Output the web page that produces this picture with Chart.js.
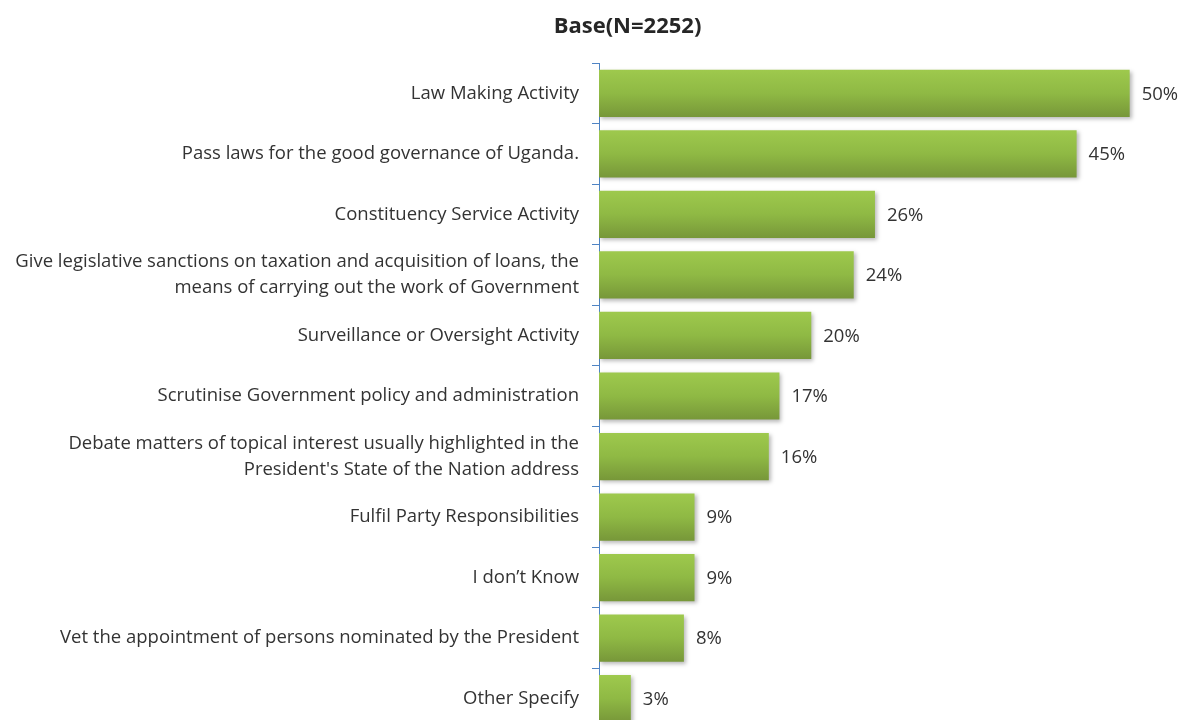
<!DOCTYPE html>
<html>
<head>
<meta charset="utf-8">
<script src="https://cdn.jsdelivr.net/npm/chart.js@4.4.1/dist/chart.umd.min.js"></script>
<style>
    html, body { margin: 0; padding: 0; background: #fff; overflow: hidden; }
    .grafico-container { width: 1187px; height: 729px; position: relative; }
</style>
</head>
<body>
<div class="grafico-container">
    <canvas id="graficoFuncoes"></canvas>
</div>
<script>
const categorias = [
    "Law Making Activity",
    "Pass laws for the good governance of Uganda.",
    "Constituency Service Activity",
    ["Give legislative sanctions on taxation and acquisition of loans, the", "means of carrying out the work of Government"],
    "Surveillance or Oversight Activity",
    "Scrutinise Government policy and administration",
    ["Debate matters of topical interest usually highlighted in the", "President's State of the Nation address"],
    "Fulfil Party Responsibilities",
    "I don\u2019t Know",
    "Vet the appointment of persons nominated by the President",
    "Other Specify"
];
const percentuais = [50, 45, 26, 24, 20, 17, 16, 9, 9, 8, 3];
const titulo = "Base(N=2252)";

const fonteTexto = "'Open Sans', 'Noto Sans', sans-serif";
const corEixo = "#4f84c4";
const larguraBarra = 0.78;
const eixoX = 599;

// gradiente vertical em cada barra (claro em cima, escuro embaixo)
function corBarra(ctx) {
    const chart = ctx.chart;
    const escalaY = chart.scales.y;
    if (!escalaY || !chart.chartArea) return "#8db84a";
    const centro = escalaY.getPixelForValue(ctx.dataIndex);
    const meia = (escalaY.height / categorias.length) * larguraBarra / 2;
    const g = chart.ctx.createLinearGradient(0, centro - meia, 0, centro + meia);
    g.addColorStop(0, "#9ec94d");
    g.addColorStop(0.5, "#8fb944");
    g.addColorStop(1, "#779739");
    return g;
}

// sombra leve sob as barras
const sombraBarras = {
    id: "sombraBarras",
    beforeDatasetsDraw(chart) {
        const c = chart.ctx;
        c.save();
        c.shadowColor = "rgba(0, 0, 0, 0.28)";
        c.shadowBlur = 4;
        c.shadowOffsetX = 2;
        c.shadowOffsetY = 2;
    },
    afterDatasetsDraw(chart) {
        chart.ctx.restore();
    }
};

// título e rótulos de valor à direita das barras
const textos = {
    id: "textos",
    afterDraw(chart) {
        const c = chart.ctx;
        const meta = chart.getDatasetMeta(0);
        c.save();
        c.font = "bold 22px " + fonteTexto;
        c.fillStyle = "#262626";
        c.textAlign = "center";
        c.textBaseline = "middle";
        c.fillText(titulo, (chart.width + 68) / 2, 27);

        c.font = "18.5px " + fonteTexto;
        c.fillStyle = "#333333";
        c.textAlign = "left";
        meta.data.forEach((barra, i) => {
            c.fillText(percentuais[i] + "%", barra.x + 12, barra.y + 1);
        });
        c.restore();
    }
};

const canvas = document.getElementById("graficoFuncoes");

new Chart(canvas, {
    type: "bar",
    data: {
        labels: categorias,
        datasets: [{
            data: percentuais,
            backgroundColor: corBarra,
            borderWidth: 0,
            barPercentage: larguraBarra,
            categoryPercentage: 1
        }]
    },
    options: {
        indexAxis: "y",
        responsive: true,
        maintainAspectRatio: false,
        animation: false,
        layout: { padding: { left: 0, right: 0, top: 63, bottom: 0 } },
        plugins: {
            legend: { display: false },
            tooltip: { enabled: false },
            title: { display: false }
        },
        scales: {
            x: {
                display: false,
                min: 0,
                max: 55.4
            },
            y: {
                afterFit(escala) {
                    escala.width = eixoX;
                    escala.paddingTop = 0;
                    escala.paddingBottom = 0;
                },
                grid: {
                    display: true,
                    drawOnChartArea: false,
                    drawTicks: true,
                    tickLength: 7,
                    color: corEixo,
                    offset: true
                },
                border: { display: true, color: corEixo, width: 1 },
                ticks: {
                    color: "#333333",
                    padding: 13,
                    font: { family: fonteTexto, size: 18.5, lineHeight: 1.4 }
                }
            }
        }
    },
    plugins: [sombraBarras, textos]
});
</script>
</body>
</html>
